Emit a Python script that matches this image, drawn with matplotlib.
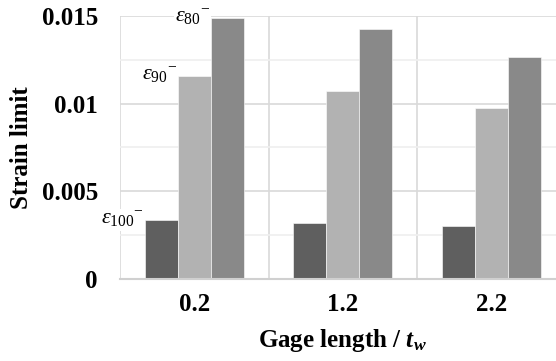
import matplotlib
matplotlib.use("Agg")
import matplotlib.pyplot as plt
import numpy as np

# gage length / t_w categories
categories = ["0.2", "1.2", "2.2"]
eps100 = [0.00336, 0.00318, 0.00304]
eps90 = [0.01157, 0.01074, 0.00977]
eps80 = [0.01488, 0.01427, 0.01266]

series = [eps100, eps90, eps80]
colors = ["#5f5f5f", "#b2b2b2", "#898989"]
labels = [r"$\varepsilon_{100}{}^{-}$", r"$\varepsilon_{90}{}^{-}$", r"$\varepsilon_{80}{}^{-}$"]

plt.rcParams["font.family"] = "Liberation Serif"
plt.rcParams["mathtext.fontset"] = "custom"
plt.rcParams["mathtext.rm"] = "Liberation Serif"
plt.rcParams["mathtext.it"] = "Liberation Serif:italic"
plt.rcParams["mathtext.bf"] = "Liberation Serif:bold"
plt.rcParams["mathtext.bfit"] = "Liberation Serif:bold:italic"
plt.rcParams["mathtext.default"] = "it"

fig = plt.figure(figsize=(5.56, 3.61), dpi=100)
ax = fig.add_axes([120 / 556, 1 - 279 / 361, 445.5 / 556, 263 / 361])

x = np.arange(len(categories))
w = 0.222
for i, vals in enumerate(series):
    ax.bar(x + (i - 1) * w, vals, w, color=colors[i], edgecolor="white", linewidth=0.4, zorder=3)
    # label only on the first group
    ax.text(x[0] + (i - 1) * w - w / 2 - 0.005, vals[0], labels[i], ha="right", va="center",
            fontsize=16, bbox=dict(facecolor="white", edgecolor="none", pad=0.5), zorder=4)

ax.set_xlim(-0.5, 2.5)
ax.set_ylim(0, 0.015)
ax.set_yticks([0, 0.005, 0.01, 0.015])
ax.set_yticklabels(["0", "0.005", "0.01", "0.015"], fontsize=18, fontweight="bold")
ax.set_yticks([0.0025, 0.0075, 0.0125], minor=True)
ax.set_xticks(x)
ax.set_xticklabels(categories, fontsize=18, fontweight="bold")
ax.set_xticks([-0.5, 0.5, 1.5, 2.5], minor=True)

ax.grid(True, which="major", axis="y", color="#d9d9d9", linewidth=1.2, zorder=0)
ax.grid(True, which="minor", axis="y", color="#efefef", linewidth=1.2, zorder=0)
ax.grid(True, which="minor", axis="x", color="#d9d9d9", linewidth=1.2, zorder=0)
ax.tick_params(which="both", length=0)
ax.tick_params(axis="y", pad=16)
ax.tick_params(axis="x", pad=10)
for s in ["top", "right", "left"]:
    ax.spines[s].set_visible(False)
ax.spines["bottom"].set_color("#d0d0d0")
ax.spines["bottom"].set_linewidth(1.5)
ax.spines["bottom"].set_zorder(5)

ax.set_ylabel("Strain limit", fontsize=18, fontweight="bold", labelpad=6)
ax.set_xlabel(r"Gage length / $\mathbfit{t}_{\mathbfit{w}}$", fontsize=18, fontweight="bold", labelpad=8)

fig.savefig("out.png", dpi=100)
